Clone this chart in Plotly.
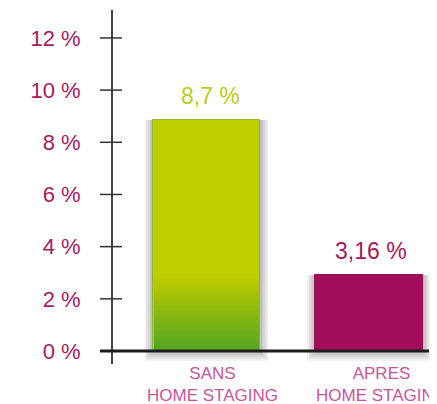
import plotly.graph_objects as go

categories = ["SANS<br>HOME STAGING", "APRES<br>HOME STAGING"]
bar_heights = [8.85, 2.92]          # drawn heights (%)
value_labels = ["8,7 %", "3,16 %"]
tick_vals = [0, 2, 4, 6, 8, 10, 12]
tick_text = ["0 %", "2 %", "4 %", "6 %", "8 %", "10 %", "12 %"]

xpos = [0, 1]
bar_w = 0.66
yellow = (190, 204, 0)
green = (86, 165, 36)
magenta = "#A00E5A"

fig = go.Figure()

# soft shadows
for k in range(1, 6):
    fig.add_trace(go.Bar(
        x=xpos, y=[h + 0.08 * k for h in bar_heights], base=[-0.08 * k] * 2,
        width=bar_w + 0.02 * k, marker=dict(color="rgba(0,0,0,0.055)", line=dict(width=0)),
        hoverinfo="skip", showlegend=False))

# main bars
fig.add_trace(go.Bar(
    x=xpos, y=bar_heights, width=bar_w,
    marker=dict(color=["rgb(190,204,0)", magenta],
                line=dict(color=["#8DBA2E", magenta], width=1)),
    showlegend=False))

# gradient at bottom of first bar
grad_top = 2.85
n = 30
for i in range(n):
    t = i / (n - 1)
    c = tuple(int(green[j] + (yellow[j] - green[j]) * t) for j in range(3))
    fig.add_trace(go.Bar(
        x=[xpos[0]], y=[grad_top / n + 0.01], base=[grad_top * i / n],
        width=bar_w - 0.012, marker=dict(color="rgb(%d,%d,%d)" % c, line=dict(width=0)),
        hoverinfo="skip", showlegend=False))

label_colors = ["#BCCB1A", "#A3195E"]
for x, h, t, c in zip(xpos, bar_heights, value_labels, label_colors):
    fig.add_annotation(x=x, y=h, text=t, showarrow=False, yanchor="middle",
                       yshift=24, xshift=4 if x == 0 else 2,
                       font=dict(family="Liberation Sans", size=23, color=c))

# category labels
for x, t, dx in zip(xpos, categories, [6, 13]):
    fig.add_annotation(x=x, y=0, yref="paper", text=t, showarrow=False,
                       yanchor="top", xanchor="center", xshift=dx, yshift=2,
                       align="center",
                       font=dict(family="Liberation Sans", size=17, color="#C8559A"))

shapes = []
for v in tick_vals[1:]:
    shapes.append(dict(type="line", xref="paper", yref="y",
                       x0=-13 / 324, x1=9 / 324, y0=v, y1=v,
                       line=dict(color="#333333", width=1.5)))
shapes.append(dict(type="line", xref="paper", yref="y",
                   x0=-13 / 324, x1=1, y0=0, y1=0,
                   line=dict(color="#1c1c1c", width=3)))

fig.update_layout(
    width=429, height=396,
    margin=dict(l=105, r=0, t=2, b=40),
    paper_bgcolor="white", plot_bgcolor="white",
    barmode="overlay", bargap=0,
    shapes=shapes,
    xaxis=dict(tickmode="array", tickvals=xpos, showticklabels=False,
               range=[-0.575, 1.419], showgrid=False, zeroline=False,
               showline=False, ticks=""),
    yaxis=dict(tickmode="array", tickvals=tick_vals, ticktext=tick_text,
               range=[-0.498, 13.07], showgrid=False, zeroline=False,
               showline=True, linecolor="#444444", linewidth=2, ticks="",
               ticklabelstandoff=26,
               tickfont=dict(family="Liberation Sans", size=22, color="#A8195F")),
)

fig.write_html("out.html")
